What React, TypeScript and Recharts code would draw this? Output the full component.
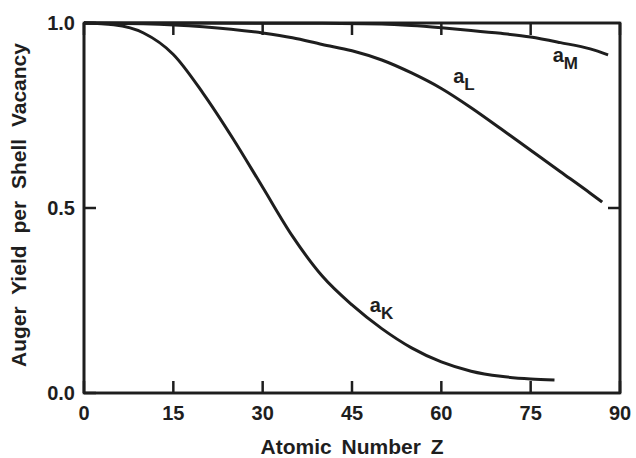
import { LineChart, Line, XAxis, YAxis, ReferenceDot, ReferenceArea, CartesianGrid } from "recharts";

// atomic number Z and Auger yield for each shell
const Z_K = [0, 5, 10, 15, 20, 25, 30, 35, 40, 45, 50, 55, 60, 65, 70, 75, 79];
const A_K = [1.0, 0.995, 0.973, 0.915, 0.81, 0.688, 0.556, 0.424, 0.316, 0.238, 0.174, 0.122, 0.084, 0.059, 0.045, 0.038, 0.035];

const Z_L = [0, 10, 20, 30, 35, 40, 45, 50, 55, 60, 65, 70, 75, 80, 85, 87];
const A_L = [1.0, 0.998, 0.99, 0.973, 0.96, 0.942, 0.925, 0.9, 0.865, 0.823, 0.771, 0.714, 0.656, 0.598, 0.54, 0.516];

const Z_M = [0, 20, 40, 50, 55, 60, 65, 70, 75, 80, 85, 88];
const A_M = [1.0, 1.0, 0.999, 0.997, 0.993, 0.987, 0.98, 0.972, 0.962, 0.947, 0.93, 0.914];

const X_TICKS = [0, 15, 30, 45, 60, 75, 90];
const Y_TICKS = [0, 0.5, 1.0];
const SHELLS = ["K", "L", "M"];

// where each curve name sits, in data units (Z, yield)
const NAME_Z = [48, 62, 78.7];
const NAME_A = [0.219, 0.838, 0.895];

const toRows = (zs: number[], as: number[]) => zs.map((z, i) => ({ z, a: as[i] }));
const SERIES = [toRows(Z_K, A_K), toRows(Z_L, A_L), toRows(Z_M, A_M)];

const X_MAX = X_TICKS[X_TICKS.length - 1];
const Y_MAX = Y_TICKS[Y_TICKS.length - 1];

const INK = "#1e1e1e";
const FONT = "'Liberation Sans', Arial, sans-serif";
const TICK_LEN = 12;
const FRAME_W = 2.6;

function BottomTick({ x, y, payload }: any) {
  return (
    <g>
      <line x1={x} x2={x} y1={y} y2={y - TICK_LEN} stroke={INK} strokeWidth={2.5} />
      <text x={x} y={y + 27} textAnchor="middle" fontSize={20} fontWeight="bold" fill={INK} fontFamily={FONT}>
        {payload.value}
      </text>
    </g>
  );
}

function LeftTick({ x, y, payload }: any) {
  return (
    <g>
      <line x1={x} x2={x + TICK_LEN} y1={y} y2={y} stroke={INK} strokeWidth={2.5} />
      <text x={x - 9} y={y} textAnchor="end" dominantBaseline="central" fontSize={20} fontWeight="bold" fill={INK} fontFamily={FONT}>
        {Number(payload.value).toFixed(1)}
      </text>
    </g>
  );
}

// box outline plus the inward ticks on its top and right sides,
// placed from the area's own corners (the scaled domain ends)
function FrameShape(props: any) {
  const { x, y, width, height } = props;
  if (x == null || y == null || width == null || height == null) return <g />;
  const right = x + width;
  const top = y;
  const bottom = y + height;
  const tops = X_TICKS.map((t) => x + ((t - X_TICKS[0]) / (X_MAX - X_TICKS[0])) * width);
  const rights = Y_TICKS.filter((v) => v > 0 && v < Y_MAX).map((v) => bottom - (v / Y_MAX) * height);
  return (
    <g>
      <rect x={x} y={y} width={width} height={height} fill="none" stroke={INK} strokeWidth={FRAME_W} />
      {tops.map((tx, i) => (
        <line key={"t" + i} x1={tx} x2={tx} y1={top} y2={top + TICK_LEN} stroke={INK} strokeWidth={2.5} />
      ))}
      {rights.map((ry, i) => (
        <line key={"r" + i} x1={right} x2={right - TICK_LEN} y1={ry} y2={ry} stroke={INK} strokeWidth={2.5} />
      ))}
    </g>
  );
}

export default function App() {
  const axisLine = { stroke: INK, strokeWidth: FRAME_W };
  return (
    <div style={{ position: "absolute", left: 0, top: 0, background: "#fff" }}>
      <LineChart width={636} height={458} margin={{ top: 23, right: 16, bottom: 0, left: 0 }}>
        <CartesianGrid
          stroke={INK}
          strokeWidth={FRAME_W}
          horizontalCoordinatesGenerator={({ offset }: any) => [offset.top]}
          verticalCoordinatesGenerator={({ offset }: any) => [offset.left + offset.width]}
        />
        <XAxis
          dataKey="z"
          type="number"
          domain={[0, X_MAX]}
          ticks={X_TICKS}
          interval={0}
          height={65}
          tickSize={0}
          tickMargin={0}
          axisLine={axisLine}
          tick={<BottomTick />}
          label={{
            content: ({ viewBox }: any) => (
              <text
                x={viewBox.x + viewBox.width / 2}
                y={viewBox.y + 61}
                textAnchor="middle"
                fontSize={21}
                fontWeight="bold"
                wordSpacing={4}
                fill={INK}
                fontFamily={FONT}
              >
                Atomic Number Z
              </text>
            ),
          }}
        />
        <YAxis
          type="number"
          domain={[0, Y_MAX]}
          ticks={Y_TICKS}
          interval={0}
          width={84}
          tickSize={0}
          tickMargin={0}
          axisLine={axisLine}
          tick={<LeftTick />}
          label={{
            content: ({ viewBox }: any) => {
              const cx = 18;
              const cy = viewBox.y + viewBox.height / 2 - 3;
              return (
                <text
                  x={cx}
                  y={cy}
                  transform={`rotate(-90 ${cx} ${cy})`}
                  textAnchor="middle"
                  dominantBaseline="central"
                  fontSize={21}
                  fontWeight="bold"
                  wordSpacing={6}
                  fill={INK}
                  fontFamily={FONT}
                >
                  Auger Yield per Shell Vacancy
                </text>
              );
            },
          }}
        />
        <ReferenceArea
          x1={0}
          x2={X_MAX}
          y1={0}
          y2={Y_MAX}
          ifOverflow="visible"
          shape={<FrameShape />}
        />
        {SERIES.map((rows, i) => (
          <Line
            key={SHELLS[i]}
            data={rows}
            dataKey="a"
            type="monotone"
            stroke={INK}
            strokeWidth={3}
            dot={false}
            activeDot={false}
            isAnimationActive={false}
          />
        ))}
        {SHELLS.map((s, i) => (
          <ReferenceDot
            key={"n" + s}
            x={NAME_Z[i]}
            y={NAME_A[i]}
            r={0}
            fill="none"
            stroke="none"
            ifOverflow="visible"
            label={<CurveName sub={s} />}
          />
        ))}
      </LineChart>
    </div>
  );
}

function CurveName({ viewBox, sub }: any) {
  const x = viewBox?.x ?? 0;
  const y = viewBox?.y ?? 0;
  return (
    <text x={x} y={y} fontSize={20} fontWeight="bold" fill={INK} fontFamily={FONT}>
      a
      <tspan dy={7} fontSize={17}>{sub}</tspan>
    </text>
  );
}
